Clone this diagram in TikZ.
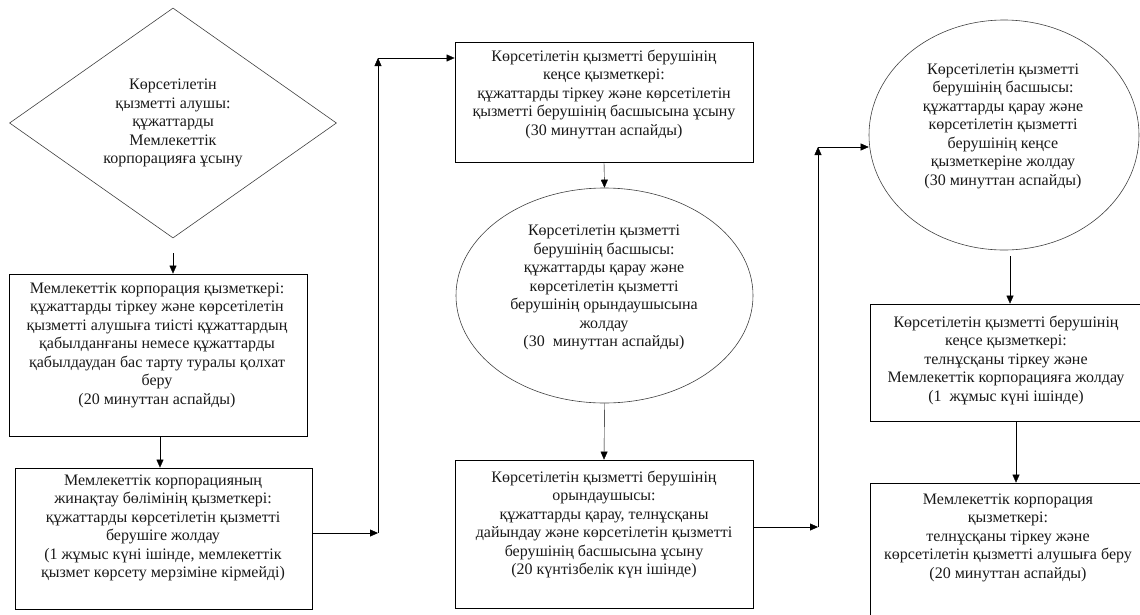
\documentclass[tikz,border=0pt]{standalone}
\usepackage{fontspec}
\setmainfont{Liberation Serif}
\usetikzlibrary{shapes.geometric,arrows.meta,positioning,calc}
\definecolor{inkgray}{RGB}{25,25,25}

\begin{document}
\begin{tikzpicture}[x=1pt,y=-1pt,
  box/.style={rectangle,draw,line width=0.8pt,inner sep=0pt},
  oval/.style={ellipse,draw=black!75,line width=0.6pt,inner sep=0pt},
  txt/.style={align=center,inner sep=0pt,text=inkgray,font=\fontsize{16}{18.5}\selectfont},
  >={Triangle[length=8pt,width=7pt]}]
  \useasboundingbox (0,0) rectangle (1140,614);

  % Shapes
  \node[diamond,draw=black!75,line width=0.6pt,inner sep=0pt,minimum width=327pt,minimum height=230pt] (dia) at (173,123) {};
  \node[box,minimum width=298pt,minimum height=162pt] (B1) at (158,355) {};
  \node[box,minimum width=297pt,minimum height=141pt] (B2) at (163.5,538.5) {};
  \node[box,minimum width=298pt,minimum height=120pt] (B3) at (604,102) {};
  \node[oval,minimum width=297pt,minimum height=215pt] (E1) at (604.5,295.5) {};
  \node[box,minimum width=298pt,minimum height=148pt] (B4) at (604,534) {};
  \node[oval,minimum width=270pt,minimum height=230pt] (E2) at (1004,135) {};
  \node[box,minimum width=275pt,minimum height=117pt] (B5) at (1007.5,362.5) {};
  \node[box,minimum width=275pt,minimum height=147pt] (B6) at (1007.5,556.5) {};

  % Texts
  \node[txt] (Tdia) at (173,123) {Көрсетілетін\\қызметті алушы:\\құжаттарды\\Мемлекеттік\\корпорацияға ұсыну};
  \node[txt] (T1) at (157,345) {Мемлекеттік корпорация қызметкері:\\құжаттарды тіркеу және көрсетілетін\\қызметті алушыға тиісті құжаттардың\\қабылданғаны немесе құжаттарды\\қабылдаудан бас тарту туралы қолхат\\беру\\(20 минуттан аспайды)};
  \node[txt] (T2) at (163,528) {Мемлекеттік корпорацияның\\жинақтау бөлімінің қызметкері:\\құжаттарды көрсетілетін қызметті\\берушіге жолдау\\(1 жұмыс күні ішінде, мемлекеттік\\қызмет көрсету мерзіміне кірмейді)};
  \node[txt] (T3) at (604,94) {Көрсетілетін қызметті берушінің\\кеңсе қызметкері:\\құжаттарды тіркеу және көрсетілетін\\қызметті берушінің басшысына ұсыну\\(30 минуттан аспайды)};
  \node[txt] (TE1) at (604,287.5) {Көрсетілетін қызметті\\берушінің басшысы:\\құжаттарды қарау және\\көрсетілетін қызметті\\берушінің орындаушысына\\жолдау\\(30\ \ минуттан аспайды)};
  \node[txt] (T4) at (604,524.5) {Көрсетілетін қызметті берушінің\\орындаушысы:\\құжаттарды қарау, телнұсқаны\\дайындау және көрсетілетін қызметті\\берушінің басшысына ұсыну\\(20 күнтізбелік күн ішінде)};
  \node[txt] (TE2) at (1003,126) {Көрсетілетін қызметті\\берушінің басшысы:\\құжаттарды қарау және\\көрсетілетін қызметті\\берушінің кеңсе\\қызметкеріне жолдау\\(30 минуттан аспайды)};
  \node[txt] (T5) at (1006,360) {Көрсетілетін қызметті берушінің\\кеңсе қызметкері:\\телнұсқаны тіркеу және\\Мемлекеттік корпорацияға жолдау\\(1\ \ жұмыс күні ішінде)};
  \node[txt] (T6) at (1008,537.5) {Мемлекеттік корпорация\\қызметкері:\\телнұсқаны тіркеу және\\көрсетілетін қызметті алушыға беру\\(20 минуттан аспайды)};

  % Corner points
  \coordinate (c1) at (378,533);
  \coordinate (c2) at (378,58);
  \coordinate (c3) at (818,527);
  \coordinate (c4) at (818,147);

  % Arrows
  \draw[->,shorten <=15pt] (dia.south) -- (dia.south |- B1.north);
  \draw[->] ([xshift=2pt]B1.south) -- ([xshift=2pt]B1.south |- B2.north);
  \draw[->] (B2.east |- c1) -- (c1);
  \draw[->] (c1) -- (c2);
  \draw[->] (c2) -- (c2 -| B3.west);
  \draw[->] (B3.south) -- (E1.north);
  \draw[->] (E1.south) -- (B4.north);
  \draw[->] (B4.east |- c3) -- (c3);
  \draw[->] (c3) -- (c4);
  \draw[->] (c4) -- (c4 -| E2.west);
  \draw[->,shorten <=6pt] ([xshift=6pt]E2.south) -- ([xshift=6pt]E2.south |- B5.north);
  \draw[->] ([xshift=8.5pt]B5.south) -- ([xshift=8.5pt]B5.south |- B6.north);

\end{tikzpicture}
\end{document}
